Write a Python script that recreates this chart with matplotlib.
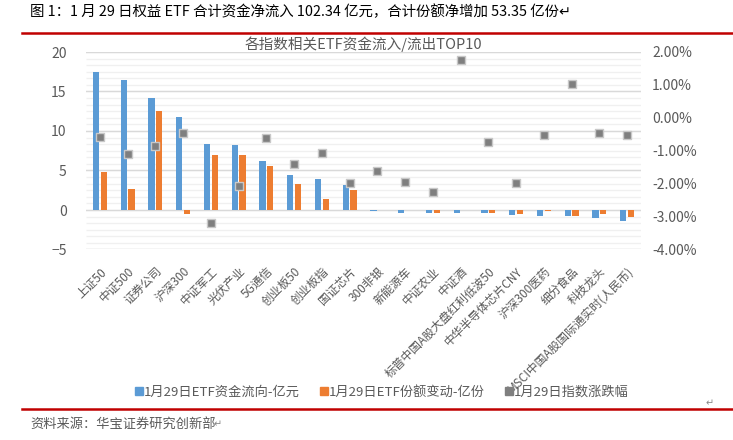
import numpy as np
import matplotlib
matplotlib.use('Agg')
import matplotlib.pyplot as plt
from matplotlib.lines import Line2D

plt.rcParams['font.family'] = ['Noto Sans CJK SC', 'DejaVu Sans']

# 数据
categories = ['上证50', '中证500', '证券公司', '沪深300', '中证军工', '光伏产业', '5G通信',
              '创业板50', '创业板指', '国证芯片', '300非银', '新能源车', '中证农业', '中证酒',
              '标普中国A股大盘红利低波50', '中华半导体芯片CNY', '沪深300医药', '细分食品',
              '科技龙头', 'MSCI中国A股国际通实时(人民币)']
flow = [17.5, 16.5, 14.2, 11.8, 8.37, 8.25, 6.2, 4.44, 3.93, 3.17,
        -0.17, -0.34, -0.34, -0.34, -0.34, -0.6, -0.72, -0.72, -0.97, -1.35]
shares = [4.82, 2.66, 12.56, -0.47, 6.98, 6.98, 5.58, 3.3, 1.4, 2.54,
          -0.05, 0.0, -0.34, 0.0, -0.34, -0.47, -0.17, -0.72, -0.47, -0.85]
change = [-0.59, -1.09, -0.87, -0.47, -3.18, -2.08, -0.62, -1.41, -1.06, -1.99,
          -1.63, -1.96, -2.24, 1.75, -0.72, -1.99, -0.53, 1.02, -0.47, -0.51]

blue = '#5B9BD5'
orange = '#ED7D31'
gray = '#7F7F7F'
txt = '#595959'

fig = plt.figure(figsize=(7.33, 4.4), dpi=100)
ax = fig.add_axes([86 / 733, 1 - 249.5 / 440, (641 - 86) / 733, (249.5 - 52) / 440])
ax2 = ax.twinx()

x = np.arange(len(categories))
w = 0.22
ax.bar(x - 0.14, flow, width=w, color=blue, zorder=2)
ax.bar(x + 0.14, shares, width=w, color=orange, zorder=2)
ax.set_xlim(-0.5, len(categories) - 0.5)
ax.set_ylim(-5, 20)
ax.set_yticks(np.arange(-5, 21, 5))
ax.yaxis.grid(True, color='#d9d9d9', linewidth=1, zorder=0)
ax.set_axisbelow(True)

ax2.set_ylim(-4, 2)
ax2.set_yticks(np.arange(-4, 2.01, 1))
ax2.set_yticklabels(['%.2f%%' % v for v in np.arange(-4, 2.01, 1)])
# 次坐标轴的细网格线
ax.hlines(np.arange(-4, 2.01, 0.2), 0, 1, transform=ax2.get_yaxis_transform(),
          color='#f0f0f0', linewidth=1, zorder=0)
ax2.scatter(x, change, marker='s', s=30, color=gray, edgecolors='#c8c8c8',
            linewidths=1, zorder=3)

for a in (ax, ax2):
    for s in a.spines.values():
        s.set_visible(False)
    a.tick_params(length=0, labelsize=10, colors=txt)
ax.tick_params(axis='y', pad=14)
ax2.tick_params(axis='y', pad=8)

ax.set_xticks(x)
ax.set_xticklabels(categories, rotation=45, ha='right', rotation_mode='anchor',
                   fontsize=8.5, color=txt)
ax.tick_params(axis='x', pad=11)

ax.set_title('各指数相关ETF资金流入/流出TOP10', fontsize=10.5, color=txt, pad=-9)

handles = [Line2D([], [], marker='s', linestyle='', color=c, markersize=6)
           for c in (blue, orange, gray)]
labels = ['1月29日ETF资金流向-亿元', '1月29日ETF份额变动-亿份', '1月29日指数涨跌幅']
fig.legend(handles, labels, loc='center', bbox_to_anchor=(382 / 733, 1 - 392 / 440),
           ncol=3, frameon=False, fontsize=9.5, labelcolor=txt, handlelength=0.6,
           handletextpad=0.1, columnspacing=1.5)

# 标题与来源
fig.text(30 / 733, 1 - 12 / 440,
         '图 1：1 月 29 日权益 ETF 合计资金净流入 102.34 亿元，合计份额净增加 53.35 亿份↵',
         fontsize=10.4, color='black', va='center', ha='left')
fig.add_artist(Line2D([22 / 733, 1], [1 - 33 / 440] * 2, color='#c00000', linewidth=1.8))
fig.add_artist(Line2D([22 / 733, 1], [1 - 408.5 / 440] * 2, color='#c00000', linewidth=1.8))
fig.text(30 / 733, 1 - 424 / 440, '资料来源：华宝证券研究创新部',
         fontsize=9.5, color=txt, va='center', ha='left')
fig.text(214 / 733, 1 - 424 / 440, '↵', fontsize=7, color='#888888', va='center')
fig.text(706 / 733, 1 - 403 / 440, '↵', fontsize=7, color='#888888', va='center')

fig.savefig('out.png', dpi=100)
